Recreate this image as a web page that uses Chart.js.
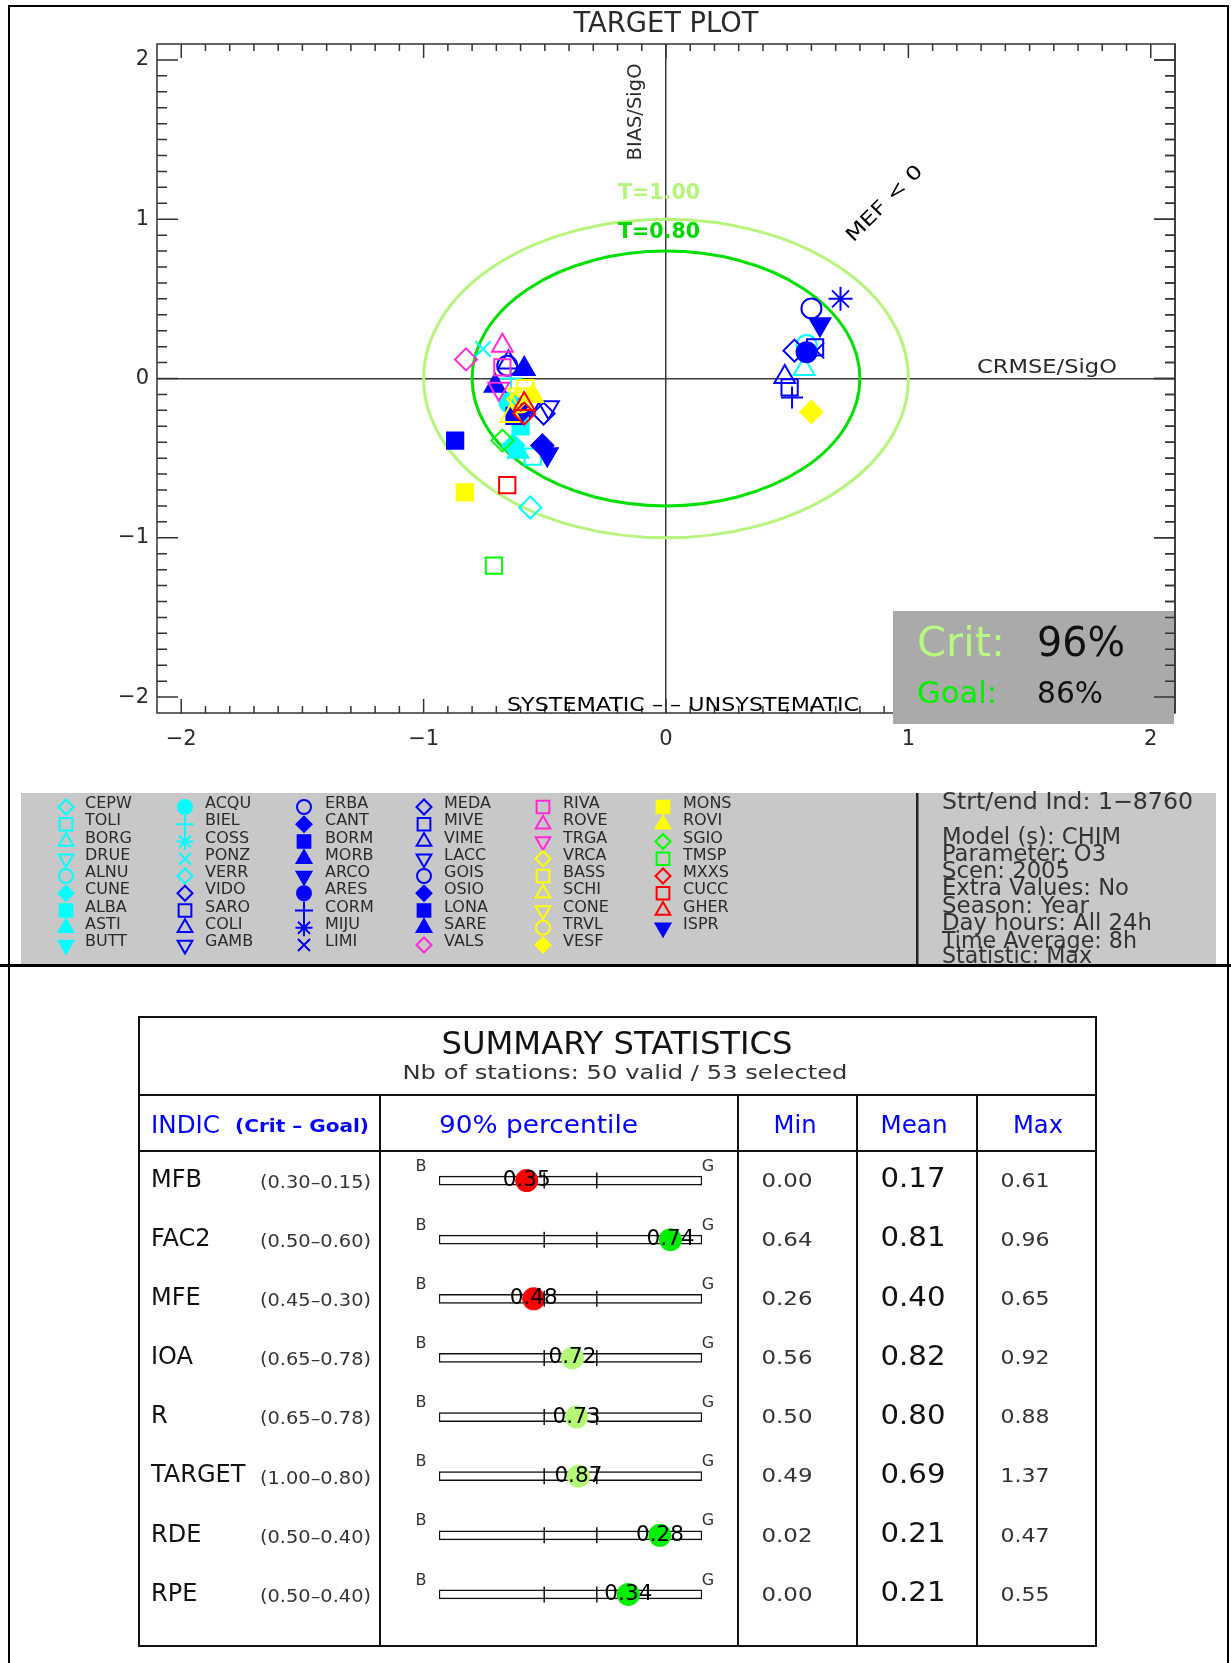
<!DOCTYPE html>
<html>
<head>
<meta charset="utf-8">
<title>Target plot</title>
<script src="https://cdn.jsdelivr.net/npm/chart.js@4.4.1/dist/chart.umd.min.js"></script>
<style>
  html, body { margin: 0; padding: 0; background: #fff; }
  #page { position: relative; width: 1231px; height: 1663px; overflow: hidden; background: #fff; }
  canvas { position: absolute; left: 0; }
  .rule { position: absolute; background: #000; }
</style>
</head>
<body>
<div id="page">
  <canvas id="target" width="1231" height="965" style="top:0"></canvas>
  <canvas id="summary" width="1231" height="683" style="top:980px"></canvas>
  <div class="rule" style="left:8px;top:5px;width:1221px;height:2px"></div>
  <div class="rule" style="left:8px;top:5px;width:2px;height:1658px"></div>
  <div class="rule" style="left:1227px;top:5px;width:2px;height:1658px"></div>
  <div class="rule" style="left:0;top:964px;width:1231px;height:3px"></div>
</div>
<script>
// ---- data ----
const stationNames = ['CEPW','TOLI','BORG','DRUE','ALNU','CUNE','ALBA','ASTI','BUTT',
  'ACQU','BIEL','COSS','PONZ','VERR','VIDO','SARO','COLI','GAMB',
  'ERBA','CANT','BORM','MORB','ARCO','ARES','CORM','MIJU','LIMI',
  'MEDA','MIVE','VIME','LACC','GOIS','OSIO','LONA','SARE','VALS',
  'RIVA','ROVE','TRGA','VRCA','BASS','SCHI','CONE','TRVL','VESF',
  'MONS','ROVI','SGIO','TMSP','MXXS','CUCC','GHER','ISPR'];

// CRMSE/SigO (x) and BIAS/SigO (y), null = station not valid
const crmseValues = [-0.56, -0.55, 0.57, null, 0.58, -0.63, -0.60, -0.61, -0.62,
  -0.645, -0.64, null, -0.755, null, 0.53, 0.615, -0.65, -0.485,
  0.60, -0.51, -0.87, -0.585, -0.49, 0.58, 0.52, 0.72, 0.62,
  -0.505, 0.51, 0.49, -0.56, -0.655, -0.60, -0.625, -0.705, -0.825,
  -0.675, -0.675, -0.69, -0.61, -0.58, -0.64, -0.61, -0.60, 0.60,
  -0.83, -0.55, -0.675, -0.71, -0.585, -0.655, -0.585, 0.635];
const biasValues = [-0.81, -0.49, 0.06, null, 0.21, -0.42, -0.30, -0.46, -0.20,
  -0.15, 0.00, null, 0.185, null, 0.175, 0.195, 0.10, -0.18,
  0.44, -0.42, -0.39, 0.06, -0.475, 0.165, -0.12, 0.50, 0.175,
  -0.22, -0.055, 0.01, -0.17, 0.08, -0.21, -0.235, -0.045, 0.12,
  0.07, 0.205, -0.065, -0.13, -0.06, -0.235, -0.10, -0.15, -0.21,
  -0.715, -0.11, -0.39, -1.175, -0.22, -0.67, -0.16, 0.34];

const axisTicks = [-2, -1, 0, 1, 2];
const targetRadii = [1.0, 0.8];
const targetLabels = ['T=1.00', 'T=0.80'];

const infoLines = ['Strt/end Ind: 1\u22128760', 'Model (s): CHIM', 'Parameter: O3', 'Scen: 2005',
  'Extra Values: No', 'Season: Year', 'Day hours: All 24h', 'Time Average: 8h', 'Statistic: Max'];

const critPercent = '96%';
const goalPercent = '86%';

const indicators = ['MFB', 'FAC2', 'MFE', 'IOA', 'R', 'TARGET', 'RDE', 'RPE'];
const critValues = [0.30, 0.50, 0.45, 0.65, 0.65, 1.00, 0.50, 0.50];
const goalValues = [0.15, 0.60, 0.30, 0.78, 0.78, 0.80, 0.40, 0.40];
const p90Values  = [0.35, 0.74, 0.48, 0.72, 0.73, 0.87, 0.28, 0.34];
const minValues  = [0.00, 0.64, 0.26, 0.56, 0.50, 0.49, 0.02, 0.00];
const meanValues = [0.17, 0.81, 0.40, 0.82, 0.80, 0.69, 0.21, 0.21];
const maxValues  = [0.61, 0.96, 0.65, 0.92, 0.88, 1.37, 0.47, 0.55];
const validStations = 50, selectedStations = 53;

// ---- styles ----
const COL = { c: '#00ffff', b: '#0000ff', m: '#ff2ad4', y: '#ffff00', g: '#00ff00', r: '#ff0000' };
const stationSymbols = ['D','S','T','V','O','Df','Sf','Tf','Vf',
  'Of','+','*','X','D','D','S','T','V',
  'O','Df','Sf','Tf','Vf','Of','+','*','X',
  'D','S','T','V','O','Df','Sf','Tf','D',
  'S','T','V','D','S','T','V','O','Df',
  'Sf','Tf','D','S','D','S','T','Vf'];
const stationColors = ('ccccccccc' + 'cccccbbbb' + 'bbbbbbbbb' + 'bbbbbbbbm' + 'mmmyyyyyy' + 'yyggrrrb').split('');
const SHAPES = { D: 'rectRot', S: 'rect', T: 'triangle', V: 'triangle', O: 'circle', '+': 'cross', '*': 'star', X: 'crossRot' };
const PLOT_R = { D: 11, S: 11.5, T: 12, V: 12, O: 10, '+': 11, '*': 12, X: 11 };
const LEG_R = { D: 7.5, S: 9, T: 8.5, V: 8.5, O: 7, '+': 9, '*': 8.5, X: 8.5 };

function symbolStyle(i) {
  const code = stationSymbols[i];
  const base = code.charAt(0);
  const filled = code.length > 1;
  const color = COL[stationColors[i]];
  return {
    base, shape: SHAPES[base], rotation: base === 'V' ? 180 : 0,
    stroke: color, fill: filled ? color : 'rgba(0,0,0,0)'
  };
}

const FONT = '"DejaVu Sans", "Liberation Sans", sans-serif';
const INK = '#2a2a2a';
function drawText(ctx, str, x, y, o) {
  ctx.save();
  ctx.font = (o.weight || 'normal') + ' ' + o.size + 'px ' + (o.family || FONT);
  ctx.fillStyle = o.color || INK;
  ctx.textBaseline = 'middle';
  ctx.textAlign = 'center';
  const w = ctx.measureText(str).width;
  const sx = o.width ? o.width / w : 1;
  const half = w * sx / 2;
  const align = o.align || 'center';
  ctx.translate(align === 'left' ? x + half : align === 'right' ? x - half : x, y);
  if (o.angle) ctx.rotate(o.angle * Math.PI / 180);
  ctx.scale(sx, 1);
  ctx.fillText(str, 0, 0);
  ctx.restore();
}

const fmtTick = v => (v < 0 ? '\u2212' + Math.abs(v) : String(v));

// ---- target plot decorations ----
const targetDecor = {
  id: 'targetDecor',
  beforeDatasetsDraw(chart) {
    const { ctx, scales: { x, y } } = chart;
    const cx = x.getPixelForValue(0), cy = y.getPixelForValue(0);
    const colors = ['#b6f47c', '#00e000'];
    targetRadii.forEach((r, i) => {
      ctx.save();
      ctx.strokeStyle = colors[i];
      ctx.lineWidth = 3;
      ctx.beginPath();
      ctx.ellipse(cx, cy, x.getPixelForValue(r) - cx, cy - y.getPixelForValue(r), 0, 0, Math.PI * 2);
      ctx.stroke();
      ctx.restore();
    });
  },
  afterDraw(chart) {
    const { ctx, chartArea: a, scales: { x, y } } = chart;
    ctx.save();
    ctx.strokeStyle = '#333';
    ctx.lineWidth = 1.5;
    ctx.strokeRect(a.left, a.top, a.right - a.left, a.bottom - a.top);

    const tickPath = (right) => {
      ctx.beginPath();
      for (let k = -20; k <= 20; k++) {
        const v = k / 10, major = k % 10 === 0;
        const py = y.getPixelForValue(v), ly = major ? 21 : 10;
        if (right) {
          ctx.moveTo(a.right, py); ctx.lineTo(a.right - ly, py);
        } else {
          const px = x.getPixelForValue(v), lx = major ? 14 : 7;
          ctx.moveTo(px, a.top); ctx.lineTo(px, a.top + lx);
          ctx.moveTo(px, a.bottom); ctx.lineTo(px, a.bottom - lx);
          ctx.moveTo(a.left, py); ctx.lineTo(a.left + ly, py);
        }
      }
      ctx.stroke();
    };
    tickPath(false);
    tickPath(true);

    // annotations
    drawText(ctx, 'TARGET PLOT', 666, 25, { size: 28, width: 185 });
    drawText(ctx, 'BIAS/SigO', 636, 112, { size: 19, width: 97, angle: -90 });
    drawText(ctx, 'CRMSE/SigO', 977, 368, { size: 19, width: 140, align: 'left' });
    drawText(ctx, targetLabels[0], 659, 194, { size: 21, width: 82, weight: 'bold', color: '#b6f47c' });
    drawText(ctx, targetLabels[1], 659, 233, { size: 21, width: 82, weight: 'bold', color: '#00d800' });
    drawText(ctx, 'MEF < 0', 885, 204, { size: 19, width: 100, angle: -45, color: '#000' });
    drawText(ctx, 'SYSTEMATIC \u2013 \u2013 UNSYSTEMATIC', 683, 706, { size: 20, width: 352, color: '#000' });

    // criteria box
    ctx.fillStyle = '#aaaaaa';
    ctx.fillRect(893, 611, 281, 113);
    ctx.beginPath(); ctx.moveTo(a.right, a.top); ctx.lineTo(a.right, a.bottom); ctx.stroke();
    tickPath(true);
    drawText(ctx, 'Crit:', 917, 645, { size: 41, width: 88, align: 'left', color: '#b8f880' });
    drawText(ctx, critPercent, 1037, 645, { size: 41, width: 88, align: 'left', color: '#111' });
    drawText(ctx, 'Goal:', 917, 695, { size: 31, width: 80, align: 'left', color: '#00f000' });
    drawText(ctx, goalPercent, 1037, 695, { size: 31, width: 66, align: 'left', color: '#111' });

    // legend panel
    ctx.fillStyle = '#c8c8c8';
    ctx.fillRect(21, 793, 1195, 172);
    ctx.fillStyle = '#222';
    ctx.fillRect(916, 793, 2.5, 172);
    const symX = [66, 185, 304, 424, 543, 663];
    const txtX = [85, 205, 325, 444, 563, 683];
    stationNames.forEach((name, i) => {
      const col = Math.floor(i / 9), row = i % 9;
      const ty = 804 + row * 17.25;
      const st = symbolStyle(i);
      ctx.save();
      ctx.strokeStyle = st.stroke;
      ctx.fillStyle = st.fill;
      ctx.lineWidth = 2;
      Chart.helpers.drawPoint(ctx, { pointStyle: st.shape, rotation: st.rotation, radius: LEG_R[st.base], borderWidth: 2 }, symX[col], ty + 3);
      ctx.restore();
      drawText(ctx, name, txtX[col], ty, { size: 16, align: 'left' });
    });
    const infoY = [803, 838, 855, 872, 889, 907, 924, 942, 957];
    const infoW = [251, 179, 164, 128, 187, 147, 210, 195, 150];
    infoLines.forEach((s, i) => drawText(ctx, s, 942, infoY[i], { size: 23, width: infoW[i], align: 'left', color: '#333' }));
    ctx.restore();
  }
};

const stationDatasets = stationNames.map((name, i) => {
  const st = symbolStyle(i);
  return {
    label: name,
    data: crmseValues[i] === null ? [] : [{ x: crmseValues[i], y: biasValues[i] }],
    pointStyle: st.shape,
    pointRotation: st.rotation,
    pointRadius: PLOT_R[st.base],
    pointBorderColor: st.stroke,
    pointBackgroundColor: st.fill,
    pointBorderWidth: 2,
    order: -i
  };
});

const axisCommon = {
  type: 'linear', min: -2.1, max: 2.1,
  afterBuildTicks: s => { s.ticks = axisTicks.map(v => ({ value: v })); },
  grid: {
    color: c => (c.tick && c.tick.value === 0 ? '#3a3a3a' : 'rgba(0,0,0,0)'),
    lineWidth: 1.5, drawTicks: false
  },
  border: { display: false }
};

new Chart(document.getElementById('target'), {
  type: 'scatter',
  data: { datasets: stationDatasets },
  options: {
    responsive: false,
    animation: false,
    layout: { padding: { left: 0, right: 56, top: 44, bottom: 175 } },
    plugins: { legend: { display: false }, tooltip: { enabled: false }, title: { display: false } },
    scales: {
      x: Object.assign({}, axisCommon, {
        afterFit: s => { s.height = 77; },
        ticks: { padding: 14, color: INK, autoSkip: false, maxRotation: 0,
                 font: { family: FONT, size: 21 }, callback: v => fmtTick(v) }
      }),
      y: Object.assign({}, axisCommon, {
        afterFit: s => { s.width = 157; },
        ticks: { padding: 8, color: INK, autoSkip: false,
                 font: { family: FONT, size: 21 }, callback: v => fmtTick(v) }
      })
    }
  },
  plugins: [targetDecor]
});

// ---- summary statistics table ----
const TOP = 980;
const CRIT_POS = 0.4, GOAL_POS = 0.6;
function barPosition(i) {
  const p = CRIT_POS + (p90Values[i] - critValues[i]) / (goalValues[i] - critValues[i]) * (GOAL_POS - CRIT_POS);
  return Math.max(0.03, Math.min(0.97, p));
}
function markerColor(i) {
  const v = p90Values[i], c = critValues[i], g = goalValues[i];
  const lowerBetter = c > g;
  const failCrit = lowerBetter ? v > c : v < c;
  const failGoal = lowerBetter ? v > g : v < g;
  return failCrit ? '#ff0000' : failGoal ? '#b4f878' : '#00ee00';
}

const tableDecor = {
  id: 'tableDecor',
  afterDraw(chart) {
    const { ctx, scales: { x, y } } = chart;
    ctx.save();
    ctx.translate(0, -TOP);
    ctx.strokeStyle = '#111';
    ctx.lineWidth = 2;
    ctx.strokeRect(139, 1017, 957, 629);
    ctx.beginPath();
    ctx.moveTo(139, 1095); ctx.lineTo(1096, 1095);
    ctx.moveTo(139, 1151); ctx.lineTo(1096, 1151);
    [380, 738, 857, 977].forEach(cx => { ctx.moveTo(cx, 1095); ctx.lineTo(cx, 1646); });
    ctx.stroke();

    const BLUE = '#0000ff';
    drawText(ctx, 'SUMMARY STATISTICS', 617, 1046, { size: 32, width: 351, color: '#111' });
    drawText(ctx, 'Nb of stations: ' + validStations + ' valid / ' + selectedStations + ' selected', 625, 1074,
      { size: 20, width: 445, color: '#333' });
    drawText(ctx, 'INDIC', 151, 1126, { size: 25, width: 69, align: 'left', color: BLUE });
    drawText(ctx, '(Crit \u2013 Goal)', 235, 1128, { size: 17, width: 134, align: 'left', weight: 'bold', color: BLUE });
    drawText(ctx, '90% percentile', 439, 1126, { size: 25, width: 199, align: 'left', color: BLUE });
    drawText(ctx, 'Min', 795, 1126, { size: 25, width: 43, color: BLUE });
    drawText(ctx, 'Mean', 914, 1126, { size: 25, width: 67, color: BLUE });
    drawText(ctx, 'Max', 1038, 1126, { size: 25, width: 50, color: BLUE });

    indicators.forEach((name, i) => {
      const yc = y.getPixelForValue(i) + TOP;
      drawText(ctx, name, 151, yc, { size: 24, align: 'left', color: '#111' });
      drawText(ctx, '(' + critValues[i].toFixed(2) + '\u2013' + goalValues[i].toFixed(2) + ')', 371, yc + 3,
        { size: 17, width: 111, align: 'right', color: '#333' });
      drawText(ctx, minValues[i].toFixed(2), 787, yc + 1, { size: 20, width: 51, color: '#333' });
      drawText(ctx, meanValues[i].toFixed(2), 913, yc, { size: 26, width: 65, color: '#111' });
      drawText(ctx, maxValues[i].toFixed(2), 1025, yc + 1, { size: 20, width: 49, color: '#333' });
      drawText(ctx, 'B', x.getPixelForValue(0) - 18, yc - 14, { size: 16, color: '#333' });
      drawText(ctx, 'G', x.getPixelForValue(1) + 6, yc - 14, { size: 16, color: '#333' });
    });
    ctx.restore();

    const meta = chart.getDatasetMeta(0);
    meta.data.forEach((pt, i) => {
      drawText(ctx, p90Values[i].toFixed(2), pt.x, pt.y, { size: 21, width: 48, color: '#000' });
    });
  }
};

const limitTicks = [];
indicators.forEach(n => { limitTicks.push({ x: CRIT_POS, y: n }, { x: GOAL_POS, y: n }); });

new Chart(document.getElementById('summary'), {
  type: 'bar',
  data: {
    labels: indicators,
    datasets: [
      {
        type: 'scatter', label: '90% percentile',
        data: indicators.map((n, i) => ({ x: barPosition(i), y: n })),
        pointRadius: 11.5, pointBorderWidth: 0,
        pointBackgroundColor: indicators.map((n, i) => markerColor(i)),
        order: 2
      },
      {
        type: 'scatter', label: 'crit/goal',
        data: limitTicks,
        pointStyle: 'line', pointRotation: 90, pointRadius: 8,
        pointBorderColor: '#111', pointBorderWidth: 1.5,
        order: 1
      },
      {
        type: 'bar', label: 'range', indexAxis: 'y',
        data: indicators.map(() => [0, 1]),
        backgroundColor: '#ffffff', borderColor: '#111', borderWidth: 1.5,
        borderSkipped: false, barThickness: 9,
        order: 3
      }
    ]
  },
  options: {
    responsive: false,
    animation: false,
    indexAxis: 'y',
    layout: { padding: { left: 439, right: 529, top: 171, bottom: 39 } },
    plugins: { legend: { display: false }, tooltip: { enabled: false } },
    scales: {
      x: { type: 'linear', min: 0, max: 1, display: false },
      y: { type: 'category', offset: true, display: false }
    }
  },
  plugins: [tableDecor]
});
</script>
</body>
</html>
